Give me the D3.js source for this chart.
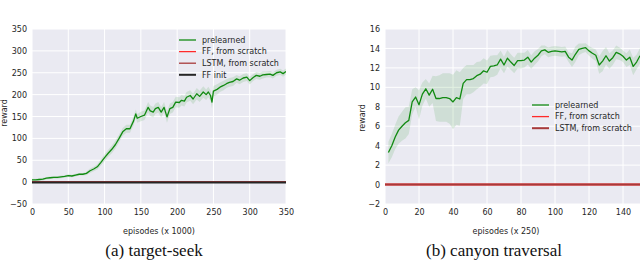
<!DOCTYPE html>
<html>
<head>
<meta charset="utf-8">
<script src="https://cdn.jsdelivr.net/npm/d3@7/dist/d3.min.js"></script>
<style>
  html, body { margin: 0; padding: 0; background: #ffffff; }
  svg { display: block; }
  text { font-family: "DejaVu Sans", sans-serif; fill: #262626; }
</style>
</head>
<body>
<svg id="chart" width="640" height="260"></svg>
<script>
// ---------- data: (a) target-seek ----------
const leftX = [0,5,10,15,20,25,30,35,40,45,50,55,60,65,70,75,80,85,90,95,100,105,110,115,120,125,130,135,140,143,145,150,155,160,163,167,170,174,178,182,186,190,194,198,203,206,210,213,218,222,227,231,236,240,243,246,248,250,255,259,264,268,272,277,282,286,291,296,300,304,309,314,318,323,328,332,337,342,346,350];
const leftPrelearned = [5,5,6,7,9,10,11,11,12,13,15,14,16,18,18,20,26,30,35,45,56,66,75,86,100,115,122,122,140,156,146,150,153,171,163,160,168,171,160,171,149,168,171,183,182,187,185,194,198,190,202,196,206,200,206,198,183,208,212,217,221,225,228,230,236,233,238,240,232,238,244,242,245,246,247,244,250,252,248,253];
const leftSpread = [3,3,3,3,3,3,3,3,3,3,3,3,3,3,3,4,5,5,6,7,8,8,9,9,9,9,9,9,10,10,10,11,11,12,12,12,12,12,12,12,13,12,12,12,12,12,12,12,12,12,13,13,13,12,12,12,14,12,12,11,11,10,10,10,9,9,9,9,9,8,8,8,8,7,7,7,7,7,7,7];
const leftFlatX = [0, 350];
const leftFFScratch = [0, 0];
const leftLSTMScratch = [1, 1];
const leftFFInit = [-1, -1];
const leftXTicks = [0,50,100,150,200,250,300,350];
const leftYTicks = [-50,0,50,100,150,200,250,300,350];
const leftLegend = ["prelearned", "FF, from scratch", "LSTM, from scratch", "FF init"];

// ---------- data: (b) canyon traversal ----------
const rightX = [2,4,6,8,10,12,14,16,18,20,22,24,26,28,30,32,34,36,38,40,42,44,46,48,50,52,54,56,58,60,62,64,66,68,70,72,74,76,78,80,82,84,86,88,90,92,94,96,98,100,102,104,106,108,110,112,114,116,118,120,122,124,126,128,130,132,134,136,138,140,142,144,146,148,150];
const rightPrelearned = [3.3,4.0,4.9,5.6,6.0,6.35,6.6,8.5,9.0,8.2,9.3,9.85,9.2,9.8,8.85,8.85,8.95,8.95,8.85,8.5,8.95,8.8,10.4,10.8,10.8,10.9,11.2,11.35,11.7,11.55,12.15,12.2,12.3,12.9,12.3,13.0,12.6,12.25,12.75,12.75,12.8,13.1,12.6,13.0,13.3,13.75,13.85,13.6,13.7,13.75,13.7,13.65,13.7,13.1,12.8,13.4,13.9,14.0,14.08,13.75,13.5,13.3,12.3,12.7,13.25,12.7,13.05,13.6,13.45,13.2,12.8,13.1,12.15,12.6,13.25];
const rightSpread = [1.1,1.2,1.25,1.4,1.5,1.6,1.4,1.3,1.0,1.5,1.2,1.0,1.2,1.4,2.3,2.4,2.5,2.5,2.6,2.8,2.8,2.75,1.6,1.5,1.5,1.4,1.4,1.3,1.3,1.2,1.1,1.1,1.0,0.9,0.85,0.85,0.8,0.8,0.8,0.8,0.75,0.75,0.7,0.7,0.65,0.55,0.45,0.5,0.5,0.5,0.5,0.5,0.5,0.5,0.7,0.8,0.6,0.5,0.45,0.5,0.55,0.6,0.9,1.05,0.9,0.8,0.75,0.7,0.65,0.6,0.7,0.8,0.9,0.75,0.8];
const rightFlatX = [0, 150];
const rightFFScratch = [0, 0];
const rightLSTMScratch = [0, 0];
const rightXTicks = [0,20,40,60,80,100,120,140];
const rightYTicks = [-2,0,2,4,6,8,10,12,14,16];
const rightLegend = ["prelearned", "FF, from scratch", "LSTM, from scratch"];

// ---------- styles ----------
const BG = "#eaeaf2";
const GREEN = "#118a11";
const RED = "#ff2a2a";
const BROWN = "#a83a3a";
const BLACK = "#262626";

const svg = d3.select("#chart");

function panel(cfg) {
  const x = d3.scaleLinear().domain(cfg.xDomain).range(cfg.xRange);
  const y = d3.scaleLinear().domain(cfg.yDomain).range(cfg.yRange);
  const g = svg.append("g");
  const clipId = cfg.id + "-clip";
  svg.append("defs").append("clipPath").attr("id", clipId)
    .append("rect")
    .attr("x", cfg.xRange[0]).attr("y", cfg.yRange[1])
    .attr("width", cfg.xRange[1] - cfg.xRange[0])
    .attr("height", cfg.yRange[0] - cfg.yRange[1]);

  g.append("rect")
    .attr("x", cfg.xRange[0]).attr("y", cfg.yRange[1])
    .attr("width", cfg.xRange[1] - cfg.xRange[0])
    .attr("height", cfg.yRange[0] - cfg.yRange[1])
    .attr("fill", BG);

  // grid
  g.append("g").selectAll("line").data(cfg.yTicks).join("line")
    .attr("x1", cfg.xRange[0]).attr("x2", cfg.xRange[1])
    .attr("y1", d => y(d)).attr("y2", d => y(d))
    .attr("stroke", "#ffffff").attr("stroke-width", 1);
  g.append("g").selectAll("line").data(cfg.xTicks).join("line")
    .attr("y1", cfg.yRange[0]).attr("y2", cfg.yRange[1])
    .attr("x1", d => x(d)).attr("x2", d => x(d))
    .attr("stroke", "#ffffff").attr("stroke-width", 1);

  const plot = g.append("g").attr("clip-path", `url(#${clipId})`);

  // band
  const bandData = cfg.px.map((v, i) => ({ x: v, lo: cfg.py[i] - cfg.spread[i], hi: cfg.py[i] + cfg.spread[i] }));
  plot.append("path").datum(bandData)
    .attr("d", d3.area().x(d => x(d.x)).y0(d => y(d.lo)).y1(d => y(d.hi)))
    .attr("fill", GREEN).attr("fill-opacity", 0.12);

  // flat lines
  const line = d3.line().x(d => x(d[0])).y(d => y(d[1]));
  cfg.flats.forEach(f => {
    plot.append("path").datum(cfg.flatX.map((v, i) => [v, f.values[i]]))
      .attr("d", line).attr("fill", "none")
      .attr("stroke", f.color).attr("stroke-width", f.width);
  });

  // prelearned line
  plot.append("path").datum(cfg.px.map((v, i) => [v, cfg.py[i]]))
    .attr("d", line).attr("fill", "none")
    .attr("stroke", GREEN).attr("stroke-width", 1.3)
    .attr("stroke-linejoin", "round");

  // axes
  const ax = g.append("g").attr("transform", `translate(0,${cfg.yRange[0]})`)
    .call(d3.axisBottom(x).tickValues(cfg.xTicks).tickSize(0).tickPadding(5).tickFormat(d3.format("d")));
  const ay = g.append("g").attr("transform", `translate(${cfg.xRange[0]},0)`)
    .call(d3.axisLeft(y).tickValues(cfg.yTicks).tickSize(0).tickPadding(5)
      .tickFormat(d => d < 0 ? "\u2212" + Math.abs(d) : String(d)));
  [ax, ay].forEach(a => {
    a.select(".domain").remove();
    a.selectAll("text").attr("font-size", 8).attr("font-family", "DejaVu Sans, sans-serif").attr("fill", "#262626");
  });

  // axis labels
  g.append("text").attr("x", cfg.xLabelX).attr("y", 234)
    .attr("text-anchor", "middle").attr("font-size", 8).text(cfg.xLabel);
  g.append("text")
    .attr("transform", `translate(${cfg.yLabelX},${cfg.yLabelY}) rotate(-90)`)
    .attr("text-anchor", "middle").attr("font-size", 8).text("reward");

  // legend
  const lg = g.append("g");
  cfg.legend.forEach((name, i) => {
    const yy = cfg.legendY + i * cfg.legendStep;
    lg.append("line").attr("x1", cfg.legendX).attr("x2", cfg.legendX + 17)
      .attr("y1", yy).attr("y2", yy)
      .attr("stroke", cfg.legendColors[i]).attr("stroke-width", cfg.legendWidths[i]);
    lg.append("text").attr("x", cfg.legendX + 23).attr("y", yy).attr("dy", "0.35em")
      .attr("font-size", 8).text(name);
  });

  // caption
  svg.append("text").attr("x", cfg.captionX).attr("y", 256)
    .attr("text-anchor", "middle")
    .style("font-family", "'Liberation Serif', 'Times New Roman', serif")
    .style("fill", "#111")
    .attr("font-size", 17).text(cfg.caption);
}

panel({
  id: "left",
  xDomain: [0, 350], yDomain: [-50, 350],
  xRange: [32, 286], yRange: [204, 29],
  xTicks: leftXTicks, yTicks: leftYTicks,
  px: leftX, py: leftPrelearned, spread: leftSpread,
  flatX: leftFlatX,
  flats: [
    { values: leftFFScratch, color: RED, width: 1.5 },
    { values: leftLSTMScratch, color: BROWN, width: 1.5 },
    { values: leftFFInit, color: BLACK, width: 2 }
  ],
  xLabel: "episodes (x 1000)", xLabelX: 159,
  yLabelX: 7, yLabelY: 113,
  legend: leftLegend,
  legendColors: [GREEN, RED, BROWN, BLACK],
  legendWidths: [1.3, 1.3, 1.3, 2],
  legendX: 179, legendY: 40, legendStep: 11.6,
  caption: "(a) target-seek", captionX: 154
});

panel({
  id: "right",
  xDomain: [0, 150], yDomain: [-2, 16],
  xRange: [385, 640], yRange: [204, 29],
  xTicks: rightXTicks, yTicks: rightYTicks,
  px: rightX, py: rightPrelearned, spread: rightSpread,
  flatX: rightFlatX,
  flats: [
    { values: rightFFScratch, color: RED, width: 2 },
    { values: rightLSTMScratch, color: BROWN, width: 2 }
  ],
  xLabel: "episodes (x 250)", xLabelX: 506,
  yLabelX: 365, yLabelY: 118,
  legend: rightLegend,
  legendColors: [GREEN, RED, BROWN],
  legendWidths: [1.3, 1.3, 2],
  legendX: 532, legendY: 105, legendStep: 11.6,
  caption: "(b) canyon traversal", captionX: 494
});
</script>
</body>
</html>
